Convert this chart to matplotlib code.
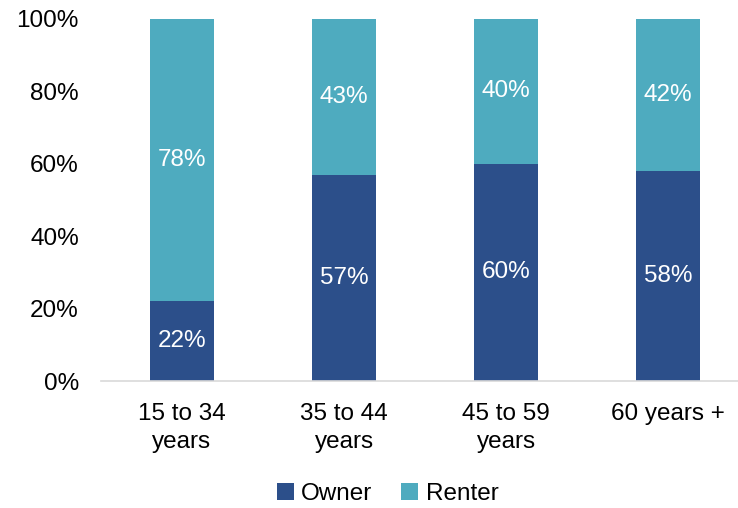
import matplotlib
matplotlib.use("Agg")
import matplotlib.pyplot as plt

plt.rcParams['font.family'] = ['Liberation Sans', 'DejaVu Sans']

# Data
categories = ["15 to 34\nyears", "35 to 44\nyears", "45 to 59\nyears", "60 years +"]
owner = [22, 57, 60, 58]
renter = [78, 43, 40, 42]

owner_color = "#2C4F8A"
renter_color = "#4EABBF"
fs = 17.5

fig = plt.figure(figsize=(7.38, 5.08), dpi=100)
ax = fig.add_axes([101 / 738, 0.25, 1 - 101 / 738, 0.7126])

x = range(len(categories))
width = 0.395
b1 = ax.bar(x, owner, width, color=owner_color, label="Owner")
b2 = ax.bar(x, renter, width, bottom=owner, color=renter_color, label="Renter")

for rect, v in zip(b1, owner):
    ax.text(rect.get_x() + rect.get_width() / 2, rect.get_y() + rect.get_height() / 2,
            f"{v}%", ha="center", va="center", color="white", fontsize=fs)
for rect, v in zip(b2, renter):
    ax.text(rect.get_x() + rect.get_width() / 2, rect.get_y() + rect.get_height() / 2,
            f"{v}%", ha="center", va="center", color="white", fontsize=fs)

ax.set_ylim(0, 100)
ax.set_xlim(-0.5, 3.43)
ax.set_yticks(range(0, 101, 20))
ax.set_yticklabels([f"{v}%" for v in range(0, 101, 20)], fontsize=fs)
ax.set_xticks(list(x))
ax.set_xticklabels(categories, fontsize=fs, linespacing=1.35)

for s in ["top", "right", "left"]:
    ax.spines[s].set_visible(False)
ax.spines["bottom"].set_color("#D9D9D9")
ax.spines["bottom"].set_linewidth(1.2)
ax.tick_params(axis="y", length=0, pad=16)
ax.tick_params(axis="x", length=0, pad=16)

fig.legend(handles=[b1, b2], loc="center", bbox_to_anchor=(0.525, 0.028), ncol=2,
           frameon=False, fontsize=fs, handlelength=0.7, handleheight=0.7,
           handletextpad=0.3, columnspacing=1.2)

fig.savefig("out.png", dpi=100)
